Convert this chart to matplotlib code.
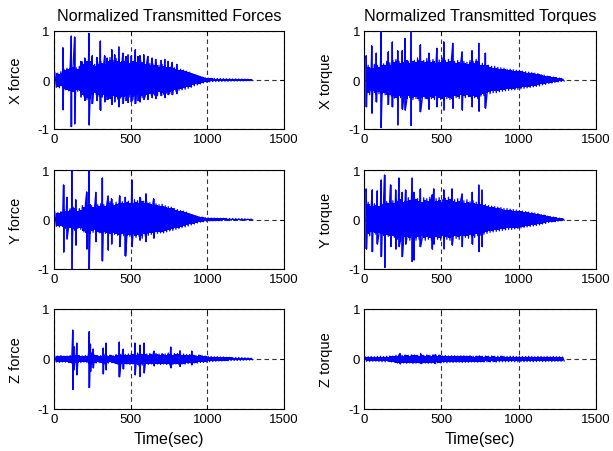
import matplotlib
matplotlib.use("Agg")
import matplotlib.pyplot as plt

plt.rcParams['font.family'] = ['Liberation Sans', 'DejaVu Sans']
plt.rcParams['axes.unicode_minus'] = False

BIN = 20  # seconds per envelope bin (bins start at t=0)

x_ticks = [0, 500, 1000, 1500]
y_ticks = [-1, 0, 1]
col_titles = ["Normalized Transmitted Forces", "Normalized Transmitted Torques"]
y_labels = [["X force", "X torque"], ["Y force", "Y torque"], ["Z force", "Z torque"]]
x_label = "Time(sec)"

# ---------------- X force ----------------
xf_upper = [0.16, 0.14, 0.17, 0.22, 0.24, 0.27, 0.30, 0.25, 0.28, 0.37,
            0.42, 0.44, 0.35, 0.32, 0.37, 0.38, 0.36, 0.44, 0.46, 0.40,
            0.44, 0.41, 0.43, 0.40, 0.38, 0.43, 0.40, 0.37, 0.41, 0.36,
            0.37, 0.34, 0.33, 0.35, 0.30, 0.32, 0.29, 0.30, 0.27, 0.25,
            0.23, 0.22, 0.20, 0.18, 0.16, 0.13, 0.11, 0.085, 0.065, 0.05,
            0.04, 0.035, 0.032, 0.03, 0.03, 0.028, 0.026, 0.025, 0.022, 0.022,
            0.02, 0.02, 0.018, 0.016, 0.012]
xf_lower = [-0.15, -0.16, -0.14, -0.20, -0.22, -0.26, -0.28, -0.23, -0.25, -0.33,
            -0.40, -0.42, -0.33, -0.30, -0.34, -0.35, -0.33, -0.39, -0.42, -0.36,
            -0.39, -0.37, -0.38, -0.36, -0.35, -0.39, -0.36, -0.34, -0.36, -0.33,
            -0.34, -0.31, -0.31, -0.32, -0.28, -0.29, -0.27, -0.27, -0.25, -0.23,
            -0.21, -0.20, -0.19, -0.17, -0.15, -0.12, -0.10, -0.08, -0.06, -0.045,
            -0.038, -0.033, -0.03, -0.03, -0.028, -0.026, -0.025, -0.023, -0.021, -0.02,
            -0.019, -0.018, -0.016, -0.014, -0.01]
xf_spike_t = [58, 113, 134, 175, 200, 228, 250, 280, 303, 330, 347, 377, 395, 423, 450, 470, 483,
              505, 531, 548, 560, 585, 612, 640, 662, 700, 722, 745, 772, 800]
xf_spike_up = [0.66, 0.90, 0.88, 0.38, 0.45, 0.95, 0.50, 0.46, 0.80, 0.50, 0.45, 0.62, 0.52, 0.68, 0.55,
               0.48, 0.52, 0.50, 0.62, 0.48, 0.50, 0.52, 0.48, 0.45, 0.42, 0.40, 0.42, 0.38, 0.36, 0.32]
xf_spike_dn = [-0.61, -0.95, -0.90, -0.35, -0.42, -0.92, -0.48, -0.42, -0.62, -0.45, -0.40, -0.50, -0.45,
               -0.55, -0.48, -0.42, -0.46, -0.44, -0.48, -0.42, -0.45, -0.40, -0.40, -0.36, -0.38, -0.32,
               -0.36, -0.30, -0.30, -0.28]

# ---------------- X torque ----------------
xt_upper = [0.45, 0.30, 0.28, 0.32, 0.30, 0.35, 0.33, 0.38, 0.35, 0.40,
            0.42, 0.38, 0.40, 0.45, 0.38, 0.42, 0.40, 0.45, 0.42, 0.40,
            0.44, 0.40, 0.42, 0.38, 0.41, 0.45, 0.40, 0.42, 0.44, 0.38,
            0.40, 0.37, 0.38, 0.36, 0.40, 0.38, 0.42, 0.35, 0.34, 0.33,
            0.30, 0.28, 0.28, 0.26, 0.25, 0.24, 0.22, 0.22, 0.21, 0.20,
            0.20, 0.18, 0.17, 0.16, 0.15, 0.14, 0.13, 0.11, 0.10, 0.08,
            0.07, 0.06, 0.05, 0.04, 0.02]
xt_lower = [-0.40, -0.30, -0.26, -0.30, -0.28, -0.32, -0.30, -0.35, -0.33, -0.37,
            -0.40, -0.36, -0.38, -0.42, -0.36, -0.40, -0.38, -0.42, -0.40, -0.38,
            -0.42, -0.38, -0.40, -0.36, -0.40, -0.42, -0.38, -0.40, -0.42, -0.36,
            -0.38, -0.35, -0.36, -0.34, -0.38, -0.36, -0.38, -0.33, -0.32, -0.30,
            -0.28, -0.26, -0.26, -0.24, -0.23, -0.22, -0.21, -0.20, -0.20, -0.19,
            -0.18, -0.17, -0.16, -0.15, -0.14, -0.13, -0.12, -0.10, -0.09, -0.07,
            -0.06, -0.05, -0.04, -0.03, -0.02]
xt_spike_t = [13, 48, 78, 108, 156, 182, 216, 246, 264, 303, 364, 418, 470, 515, 573, 634, 698, 742, 785]
xt_spike_up = [0.50, 0.70, 0.55, 1.00, 0.58, 0.78, 0.60, 0.60, 0.85, 1.00, 0.72, 0.55, 0.65, 0.78, 0.75, 0.58, 0.60, 0.75, 0.55]
xt_spike_dn = [-0.55, -0.68, -0.45, -0.97, -0.50, -0.55, -0.92, -0.60, -0.62, -0.93, -0.65, -0.60, -0.55, -0.62, -0.58, -0.62, -0.55, -0.64, -0.58]

# ---------------- Y force ----------------
yf_upper = [0.15, 0.14, 0.16, 0.20, 0.18, 0.22, 0.25, 0.20, 0.22, 0.28,
            0.32, 0.35, 0.28, 0.26, 0.30, 0.32, 0.30, 0.33, 0.36, 0.32,
            0.35, 0.38, 0.36, 0.40, 0.37, 0.36, 0.40, 0.38, 0.42, 0.37,
            0.36, 0.34, 0.33, 0.32, 0.30, 0.31, 0.28, 0.26, 0.25, 0.22,
            0.20, 0.18, 0.17, 0.15, 0.12, 0.10, 0.08, 0.06, 0.05, 0.04,
            0.035, 0.03, 0.03, 0.028, 0.025, 0.025, 0.022, 0.02, 0.02, 0.018,
            0.016, 0.015, 0.012, 0.01, 0.008]
yf_lower = [-0.14, -0.15, -0.14, -0.18, -0.17, -0.20, -0.22, -0.18, -0.20, -0.25,
            -0.30, -0.32, -0.26, -0.24, -0.27, -0.30, -0.28, -0.30, -0.33, -0.30,
            -0.32, -0.34, -0.33, -0.36, -0.34, -0.33, -0.36, -0.34, -0.38, -0.33,
            -0.32, -0.30, -0.30, -0.28, -0.27, -0.27, -0.25, -0.23, -0.22, -0.20,
            -0.18, -0.16, -0.15, -0.13, -0.11, -0.09, -0.07, -0.055, -0.045, -0.035,
            -0.03, -0.028, -0.026, -0.025, -0.022, -0.02, -0.02, -0.018, -0.017, -0.016,
            -0.015, -0.013, -0.011, -0.009, -0.007]
yf_spike_t = [62, 84, 116, 142, 213, 228, 273, 316, 353, 375, 428, 466, 508, 560, 600, 650]
yf_spike_up = [0.70, 0.45, 1.00, 0.40, 0.56, 1.00, 0.55, 0.84, 0.48, 0.42, 0.48, 0.45, 0.80, 0.45, 0.52, 0.42]
yf_spike_dn = [-0.66, -0.40, -1.00, -0.52, -0.60, -1.00, -0.45, -0.84, -0.62, -0.50, -0.55, -0.74, -0.55, -0.42, -0.45, -0.38]

# ---------------- Y torque ----------------
yt_upper = [0.58, 0.35, 0.30, 0.32, 0.30, 0.35, 0.38, 0.36, 0.40, 0.38,
            0.42, 0.45, 0.40, 0.42, 0.44, 0.40, 0.45, 0.42, 0.40, 0.44,
            0.42, 0.45, 0.40, 0.42, 0.44, 0.40, 0.43, 0.45, 0.42, 0.40,
            0.42, 0.40, 0.38, 0.40, 0.36, 0.38, 0.35, 0.34, 0.32, 0.30,
            0.28, 0.27, 0.26, 0.25, 0.24, 0.22, 0.22, 0.21, 0.20, 0.19,
            0.18, 0.17, 0.16, 0.15, 0.14, 0.13, 0.12, 0.10, 0.09, 0.07,
            0.06, 0.05, 0.04, 0.03, 0.02]
yt_lower = [-0.55, -0.33, -0.28, -0.30, -0.30, -0.33, -0.36, -0.34, -0.38, -0.36,
            -0.40, -0.42, -0.38, -0.40, -0.42, -0.38, -0.42, -0.40, -0.38, -0.42,
            -0.40, -0.42, -0.38, -0.40, -0.42, -0.38, -0.40, -0.42, -0.40, -0.38,
            -0.40, -0.38, -0.36, -0.38, -0.34, -0.36, -0.33, -0.32, -0.30, -0.28,
            -0.26, -0.25, -0.24, -0.23, -0.22, -0.21, -0.20, -0.20, -0.19, -0.18,
            -0.17, -0.16, -0.15, -0.14, -0.13, -0.12, -0.11, -0.09, -0.08, -0.06,
            -0.05, -0.045, -0.035, -0.025, -0.015]
yt_spike_t = [13, 52, 84, 110, 131, 170, 203, 224, 246, 267, 310, 321, 364, 440, 450, 515, 569, 634, 700, 742, 763]
yt_spike_up = [0.62, 0.60, 0.58, 0.80, 0.90, 0.70, 0.60, 0.84, 0.55, 0.60, 0.84, 0.55, 0.62, 0.50, 0.62, 0.60, 0.62, 0.52, 0.55, 0.70, 0.60]
yt_spike_dn = [-0.60, -0.65, -0.50, -0.75, -0.97, -0.55, -0.60, -0.55, -0.75, -0.50, -0.85, -0.82, -0.55, -0.60, -0.50, -0.60, -0.52, -0.55, -0.50, -0.65, -0.55]

# ---------------- Z force ----------------
zf_upper = [0.06, 0.06, 0.07, 0.06, 0.06, 0.07, 0.11, 0.09, 0.07, 0.06,
            0.07, 0.11, 0.12, 0.08, 0.07, 0.07, 0.10, 0.07, 0.08, 0.07,
            0.09, 0.12, 0.10, 0.09, 0.10, 0.11, 0.10, 0.12, 0.11, 0.12,
            0.10, 0.11, 0.09, 0.11, 0.10, 0.11, 0.10, 0.12, 0.10, 0.11,
            0.11, 0.10, 0.10, 0.09, 0.09, 0.08, 0.07, 0.08, 0.07, 0.06,
            0.055, 0.05, 0.045, 0.045, 0.04, 0.04, 0.035, 0.035, 0.03, 0.03,
            0.03, 0.028, 0.025, 0.022, 0.018]
zf_lower = [-0.06, -0.07, -0.06, -0.06, -0.07, -0.08, -0.12, -0.09, -0.07, -0.06,
            -0.07, -0.12, -0.11, -0.08, -0.07, -0.08, -0.12, -0.08, -0.07, -0.08,
            -0.10, -0.14, -0.11, -0.10, -0.11, -0.10, -0.11, -0.14, -0.12, -0.12,
            -0.11, -0.10, -0.11, -0.10, -0.11, -0.10, -0.11, -0.12, -0.11, -0.10,
            -0.11, -0.10, -0.10, -0.09, -0.09, -0.08, -0.08, -0.07, -0.07, -0.06,
            -0.055, -0.05, -0.045, -0.04, -0.04, -0.035, -0.035, -0.03, -0.03, -0.03,
            -0.028, -0.025, -0.022, -0.02, -0.015]
zf_spike_t = [122, 130, 148, 230, 238, 256, 321, 339, 426, 452, 528, 561, 587, 652, 761, 822, 898]
zf_spike_up = [0.58, 0.25, 0.32, 0.55, 0.30, 0.20, 0.22, 0.32, 0.34, 0.20, 0.32, 0.28, 0.32, 0.16, 0.24, 0.17, 0.16]
zf_spike_dn = [-0.61, -0.22, -0.32, -0.57, -0.25, -0.18, -0.30, -0.22, -0.36, -0.20, -0.32, -0.35, -0.28, -0.14, -0.18, -0.15, -0.12]

# ---------------- Z torque ----------------
zt_upper = [0.045, 0.045, 0.05, 0.045, 0.05, 0.055, 0.05, 0.055, 0.06, 0.06,
            0.075, 0.085, 0.075, 0.08, 0.075, 0.085, 0.08, 0.075, 0.09, 0.075,
            0.08, 0.075, 0.085, 0.075, 0.08, 0.065, 0.07, 0.06, 0.065, 0.065,
            0.06, 0.065, 0.065, 0.06, 0.065, 0.055, 0.06, 0.065, 0.055, 0.06,
            0.055, 0.06, 0.055, 0.055, 0.06, 0.055, 0.05, 0.055, 0.055, 0.05,
            0.055, 0.05, 0.05, 0.055, 0.05, 0.045, 0.05, 0.05, 0.045, 0.05,
            0.045, 0.05, 0.045, 0.045, 0.04]
zt_lower = [-0.045, -0.05, -0.045, -0.045, -0.05, -0.055, -0.055, -0.05, -0.06, -0.065,
            -0.08, -0.09, -0.08, -0.085, -0.08, -0.09, -0.085, -0.08, -0.085, -0.08,
            -0.085, -0.08, -0.085, -0.075, -0.08, -0.07, -0.075, -0.065, -0.07, -0.065,
            -0.065, -0.07, -0.065, -0.065, -0.06, -0.06, -0.065, -0.06, -0.06, -0.055,
            -0.06, -0.055, -0.06, -0.055, -0.055, -0.055, -0.055, -0.05, -0.055, -0.055,
            -0.05, -0.055, -0.05, -0.05, -0.055, -0.05, -0.045, -0.05, -0.05, -0.045,
            -0.05, -0.045, -0.045, -0.045, -0.04]
zt_spike_t = [232, 365, 460]
zt_spike_up = [0.11, 0.11, 0.09]
zt_spike_dn = [-0.10, -0.09, -0.09]


def build(upper, lower, st, su, sd):
    pts = []
    for i, (u, l) in enumerate(zip(upper, lower)):
        pts.append((BIN * i + BIN * 0.25, u))
        pts.append((BIN * i + BIN * 0.75, l))
    for ts, a, b in zip(st, su, sd):
        pts.append((ts, a))
        pts.append((ts + 1.5, b))
    pts.sort(key=lambda p: p[0])
    return [p[0] for p in pts], [p[1] for p in pts]


series = [
    [(xf_upper, xf_lower, xf_spike_t, xf_spike_up, xf_spike_dn),
     (xt_upper, xt_lower, xt_spike_t, xt_spike_up, xt_spike_dn)],
    [(yf_upper, yf_lower, yf_spike_t, yf_spike_up, yf_spike_dn),
     (yt_upper, yt_lower, yt_spike_t, yt_spike_up, yt_spike_dn)],
    [(zf_upper, zf_lower, zf_spike_t, zf_spike_up, zf_spike_dn),
     (zt_upper, zt_lower, zt_spike_t, zt_spike_up, zt_spike_dn)],
]

W, H = 613, 452
fig = plt.figure(figsize=(W / 100, H / 100), dpi=100)

col_px = [(54, 230), (364.3, 231.5)]
row_px = [(32, 130), (171, 270), (310, 410)]
BLUE = '#0000ff'

for r in range(3):
    for c in range(2):
        x0, w = col_px[c]
        top, bot = row_px[r]
        ax = fig.add_axes([x0 / W, 1 - bot / H, w / W, (bot - top) / H])
        upper, lower, st, su, sd = series[r][c]
        centers = [BIN * i + BIN * 0.5 for i in range(len(upper))]
        # dense core of the oscillation (band between envelope values)
        ax.fill_between(centers, [u * 0.9 for u in upper], [l * 0.9 for l in lower],
                        step='mid', color=BLUE, lw=0, zorder=3)
        # oscillation trace reaching the envelope values and the isolated spikes
        t, y = build(upper, lower, st, su, sd)
        ax.plot(t, y, color=BLUE, lw=0.9, zorder=3)
        ax.vlines(st, sd, su, color=BLUE, lw=1.1, zorder=3)
        ax.set_xlim(0, 1500)
        ax.set_ylim(-1, 1)
        ax.set_xticks(x_ticks)
        ax.set_yticks(y_ticks)
        ax.set_axisbelow(True)
        ax.grid(True, color='0.2', linestyle=(0, (4, 3)), linewidth=0.8)
        ax.tick_params(direction='in', length=3, width=0.6, top=True, right=True,
                       labelsize=9.5, pad=3)
        for s in ax.spines.values():
            s.set_linewidth(0.8)
        ax.set_ylabel(y_labels[r][c], fontsize=10.5, labelpad=11)
        if r == 0:
            ax.set_title(col_titles[c], fontsize=11.6, pad=8)
        if r == 2:
            ax.set_xlabel(x_label, fontsize=11.5, labelpad=4)

fig.savefig("out.png", dpi=100)
